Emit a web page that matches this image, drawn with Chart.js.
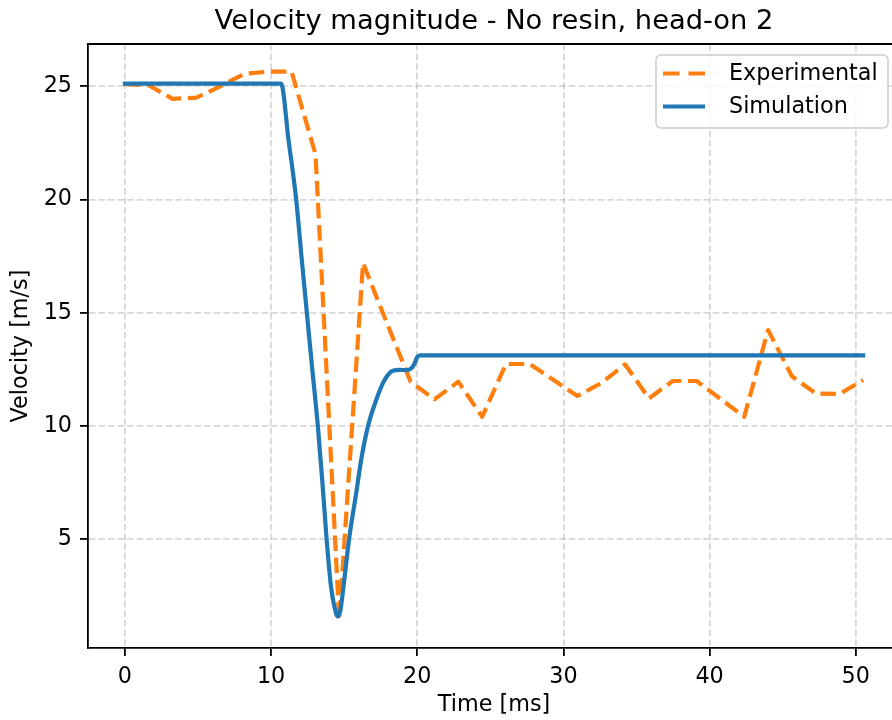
<!DOCTYPE html>
<html>
<head>
<meta charset="utf-8">
<title>Velocity magnitude</title>
<script src="https://cdn.jsdelivr.net/npm/chart.js@4.4.1/dist/chart.umd.min.js"></script>
<style>
  html, body { margin: 0; padding: 0; background: #fff; overflow: hidden; }
  canvas { display: block; }
</style>
</head>
<body>
<canvas id="myChart" width="900" height="720"></canvas>
<script>
var expTime = [0, 1.63, 3.26, 4.89, 6.52, 8.15, 9.78, 11.4, 13.04, 14.66, 16.29, 17.92, 19.55, 21.18, 22.81, 24.44,
  26.07, 27.7, 29.33, 30.96, 32.59, 34.22, 35.85, 37.48, 39.11, 40.74, 42.37, 44.0, 45.63, 47.26, 48.89, 50.5];
var expVel = [25.1, 25.05, 24.45, 24.5, 25.0, 25.55, 25.65, 25.65, 22.0, 1.44, 17.2, 14.55, 11.95, 11.18, 11.96, 10.41,
  12.74, 12.74, 12.03, 11.33, 11.9, 12.72, 11.22, 11.99, 11.99, 11.2, 10.41, 14.24, 12.2, 11.44, 11.42, 12.03];

// Simulation velocity
var simTime = [0, 10.68, 11.2, 11.71, 12.1, 12.44, 12.82, 13.2, 13.5, 13.8, 14.1, 14.34, 14.56, 14.75, 14.9,
  15.36, 15.82, 16.16, 16.62, 17.19, 17.76, 18.33, 18.8, 19.25, 19.6, 19.82, 20.0, 20.2, 50.5];
var simVel = [25.12, 25.12, 22.6, 20.05, 17.35, 15.04, 12.5, 10.0, 7.6, 5.0, 2.9, 2.0, 1.59, 1.9, 2.62,
  5.12, 7.03, 8.5, 9.97, 11.15, 12.03, 12.44, 12.48, 12.47, 12.55, 12.77, 13.05, 13.12, 13.12];

// tick labels
var xTicks = [0, 10, 20, 30, 40, 50];
var yTicks = [5, 10, 15, 20, 25];

var seriesNames = ["Experimental", "Simulation"];
var colors = ["#ff7f0e", "#1f77b4"];

var FONT = "'DejaVu Sans', sans-serif";
var LW = 4.2;
var DASH = [15.5, 6.7];

function toPoints(xs, ys){
  var pts = [];
  for (var i = 0; i < xs.length; i++){
    pts.push({x: xs[i], y: ys[i]});
  }
  return pts;
}

// title, top/right spines and legend box drawn by hand
var extras = {
  id: "extras",
  afterDraw: function(chart){
    var ctx = chart.ctx;
    var a = chart.chartArea;
    ctx.save();

    // spines top & right
    ctx.strokeStyle = "#000";
    ctx.lineWidth = 1.8;
    ctx.beginPath();
    ctx.moveTo(a.left, a.top);
    ctx.lineTo(a.right, a.top);
    ctx.lineTo(a.right, a.bottom);
    ctx.stroke();

    // title
    ctx.fillStyle = "#000";
    ctx.font = "27.3px " + FONT;
    ctx.textAlign = "center";
    ctx.textBaseline = "alphabetic";
    ctx.fillText("Velocity magnitude - No resin, head-on 2", (a.left + a.right) / 2, 29);

    // legend
    var bx = 656, by = 55, bw = 232, bh = 73, r = 5;
    ctx.beginPath();
    ctx.moveTo(bx + r, by);
    ctx.arcTo(bx + bw, by, bx + bw, by + bh, r);
    ctx.arcTo(bx + bw, by + bh, bx, by + bh, r);
    ctx.arcTo(bx, by + bh, bx, by, r);
    ctx.arcTo(bx, by, bx + bw, by, r);
    ctx.closePath();
    ctx.fillStyle = "rgba(255,255,255,0.8)";
    ctx.fill();
    ctx.strokeStyle = "#cccccc";
    ctx.lineWidth = 1.5;
    ctx.stroke();

    var rows = [73.5, 106.5];
    for (var i = 0; i < 2; i++){
      ctx.strokeStyle = colors[i];
      ctx.lineWidth = LW;
      ctx.lineCap = "butt";
      ctx.setLineDash(i == 0 ? [16.5, 9] : []);
      ctx.beginPath();
      ctx.moveTo(663, rows[i]);
      ctx.lineTo(705, rows[i]);
      ctx.stroke();
      ctx.setLineDash([]);
      ctx.fillStyle = "#000";
      ctx.font = "22.3px " + FONT;
      ctx.textAlign = "left";
      ctx.textBaseline = "middle";
      ctx.fillText(seriesNames[i], 729, rows[i] + 1);
    }
    ctx.restore();
  }
};

document.addEventListener("DOMContentLoaded", function(){
  var ctx = document.querySelector("#myChart").getContext("2d");

  var gridOpts = {
    color: "rgba(176,176,176,0.5)",
    lineWidth: 1.8,
    tickColor: "#000",
    tickLength: 8,
    tickWidth: 1.8,
    tickBorderDash: []
  };
  var borderOpts = { display: true, color: "#000", width: 1.8, dash: [6.7, 2.9] };

  var chart = new Chart(ctx, {
    type: "line",
    data: {
      datasets: [{
        label: seriesNames[0],
        data: toPoints(expTime, expVel),
        borderColor: colors[0],
        borderWidth: LW,
        borderDash: DASH,
        borderCapStyle: "butt",
        borderJoinStyle: "round",
        pointRadius: 0,
        tension: 0,
        fill: false,
        order: 1
      }, {
        label: seriesNames[1],
        data: toPoints(simTime, simVel),
        borderColor: colors[1],
        borderWidth: LW,
        borderCapStyle: "square",
        borderJoinStyle: "round",
        cubicInterpolationMode: "monotone",
        pointRadius: 0,
        fill: false,
        order: 0
      }]
    },
    options: {
      responsive: false,
      animation: false,
      devicePixelRatio: 1,
      layout: { padding: { top: 44, left: 0, right: 0, bottom: 0 } },
      plugins: {
        legend: { display: false },
        title: { display: false },
        tooltip: { enabled: false }
      },
      scales: {
        x: {
          type: "linear",
          min: -2.525,
          max: 53.025,
          afterBuildTicks: function(scale){
            scale.ticks = xTicks.map(function(v){ return {value: v}; });
          },
          afterFit: function(scale){ scale.height = 72; },
          grid: gridOpts,
          border: borderOpts,
          ticks: {
            color: "#000",
            padding: 8,
            maxRotation: 0,
            font: { family: FONT, size: 22.3 }
          },
          title: {
            display: true,
            text: "Time [ms]",
            color: "#000",
            padding: { top: 0, bottom: 1 },
            font: { family: FONT, size: 22.3 }
          }
        },
        y: {
          type: "linear",
          min: 0.2,
          max: 26.87,
          afterBuildTicks: function(scale){
            scale.ticks = yTicks.map(function(v){ return {value: v}; });
          },
          afterFit: function(scale){ scale.width = 88; },
          grid: gridOpts,
          border: borderOpts,
          ticks: {
            color: "#000",
            padding: 8,
            font: { family: FONT, size: 22.3 }
          },
          title: {
            display: true,
            text: "Velocity [m/s]",
            color: "#000",
            padding: { top: 8, bottom: 0 },
            font: { family: FONT, size: 22.3 }
          }
        }
      }
    },
    plugins: [extras]
  });
});
</script>
</body>
</html>
